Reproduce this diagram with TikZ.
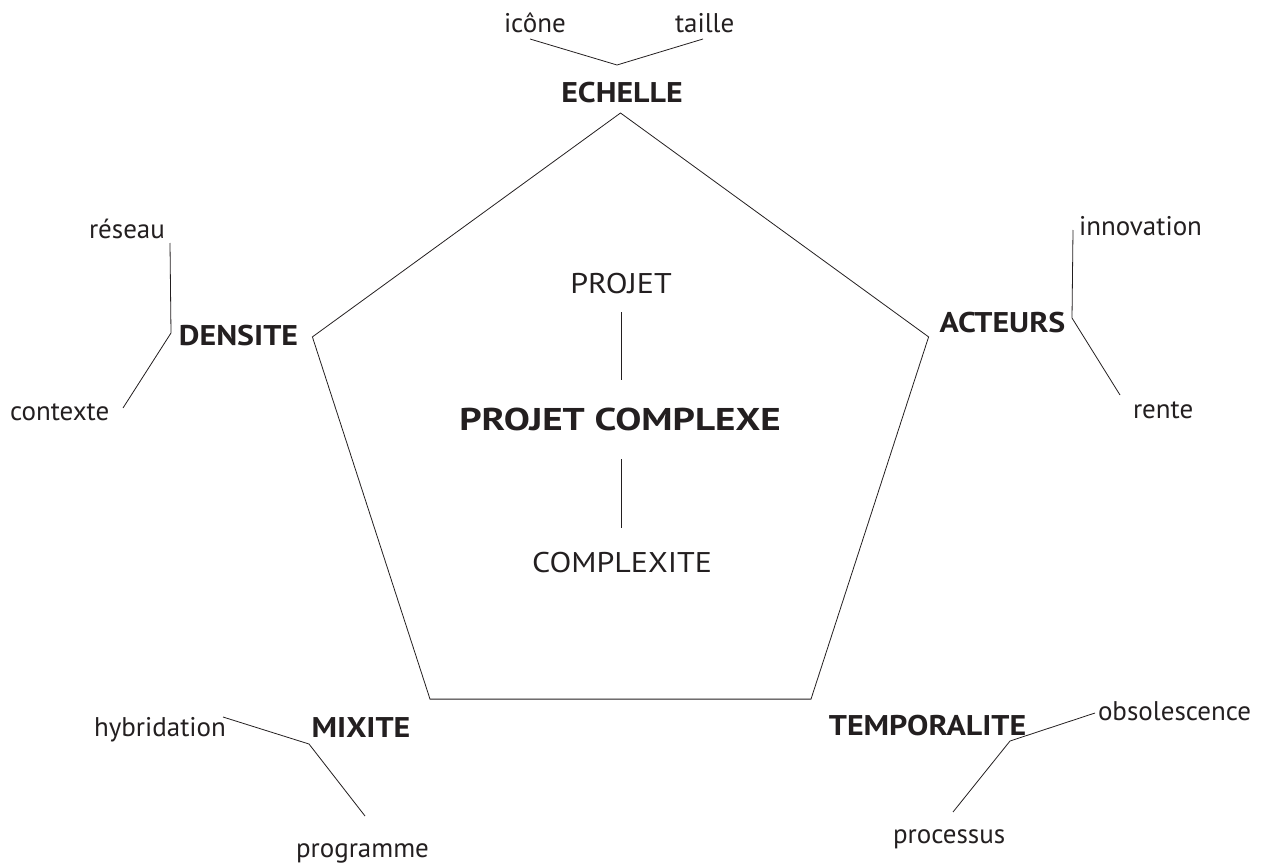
\documentclass[tikz,border=0pt]{standalone}
\usepackage{fontspec}
\setmainfont{PT Sans}
\newfontfamily\capsfont[FakeStretch=1.12]{PT Sans}
\newfontfamily\titlefont[FakeStretch=1.24]{PT Sans}
\definecolor{ink}{HTML}{231F20}
\begin{document}
\begin{tikzpicture}[x=1pt,y=-1pt,
  line width=0.8pt,
  every node/.style={inner sep=0pt, outer sep=0pt, text=ink},
  lbl/.style={font=\fontsize{27}{27}\selectfont, anchor=base west},
  key/.style={font=\capsfont\bfseries\fontsize{28.5}{28.5}\selectfont, anchor=base},
  mid/.style={font=\capsfont\fontsize{28.5}{28.5}\selectfont, anchor=base},
  title/.style={font=\titlefont\bfseries\fontsize{31.5}{31.5}\selectfont, anchor=base},
  link/.style={draw=ink, line width=0.8pt, line join=miter}]
\useasboundingbox (0,0) rectangle (1274,867);

% pentagon
\coordinate (pT) at (620.5,113);
\coordinate (pR) at (928.6,336.9);
\coordinate (pBR) at (811.0,699.1);
\coordinate (pBL) at (430.0,699.1);
\coordinate (pL) at (312.4,336.9);
\draw[link] (pT) -- (pR) -- (pBR) -- (pBL) -- (pL) -- cycle;

% centre
\node[mid] (projet) at (621,293) {PROJET};
\node[title] (pc) at (620,430) {PROJET COMPLEXE};
\node[mid] (complexite) at (622,572) {COMPLEXITE};
\coordinate (c1a) at (621,312); \coordinate (c1b) at (621,380);
\coordinate (c2a) at (621,459); \coordinate (c2b) at (621,528);
\draw[link] (c1a) -- (c1b);
\draw[link] (c2a) -- (c2b);

% ECHELLE
\node[key] (echelle) at (622,102) {ECHELLE};
\node[lbl] (icone) at (504,33) {icône};
\node[lbl] (taille) at (675,33) {taille};
\coordinate (e1) at (530,39); \coordinate (e0) at (617,65); \coordinate (e2) at (703,39);
\draw[link] (e1) -- (e0) -- (e2);

% DENSITE
\node[key] (densite) at (238.5,345) {DENSITE};
\node[lbl] (reseau) at (89,238) {réseau};
\node[lbl] (contexte) at (10,420) {contexte};
\coordinate (d1) at (170,243); \coordinate (d0) at (171,333); \coordinate (d2) at (123,408);
\draw[link] (d1) -- (d0) -- (d2);

% ACTEURS
\node[key] (acteurs) at (1002.5,332) {ACTEURS};
\node[lbl] (innovation) at (1079,235) {innovation};
\node[lbl] (rente) at (1133,418) {rente};
\coordinate (a1) at (1073,230); \coordinate (a0) at (1072,318); \coordinate (a2) at (1120,395);
\draw[link] (a1) -- (a0) -- (a2);

% MIXITE
\node[key] (mixite) at (361,737) {MIXITE};
\node[lbl] (hybridation) at (94,736) {hybridation};
\node[lbl] (programme) at (296,857) {programme};
\coordinate (m1) at (223,717); \coordinate (m0) at (309,744); \coordinate (m2) at (365,816);
\draw[link] (m1) -- (m0) -- (m2);

% TEMPORALITE
\node[key] (temporalite) at (927.5,735) {TEMPORALITE};
\node[lbl] (obsolescence) at (1098,720) {obsolescence};
\node[lbl] (processus) at (893,843) {processus};
\coordinate (t1) at (1095,713); \coordinate (t0) at (1010,741); \coordinate (t2) at (953,812);
\draw[link] (t1) -- (t0) -- (t2);
\end{tikzpicture}
\end{document}
